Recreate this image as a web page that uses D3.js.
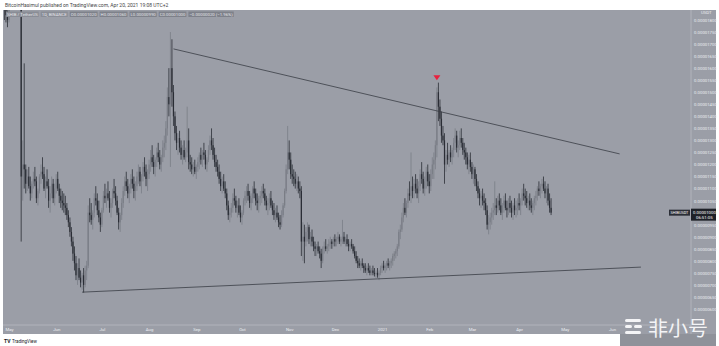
<!DOCTYPE html>
<html><head><meta charset="utf-8">
<script src="https://cdn.jsdelivr.net/npm/d3@7"></script>
<style>html,body{margin:0;padding:0;background:#fff;overflow:hidden}svg{display:block}</style>
</head><body><svg id="c" width="719" height="346"></svg>
<script>
// ---- data (prices in units of 1e-8 USDT) ----
const startDate = Date.UTC(2020, 3, 28);
const open0 = 1880;
const highs = [
1900,1880,1840,1880,1950,2000,2050,2030,1990,1960,
1920,1880,1300,1620,1200,1180,1190,1150,1130,1170,
1190,1150,1100,1160,1200,1230,1190,1150,1180,1140,
1110,1150,1140,1120,1160,1170,1120,1100,1090,1080,
1070,1040,1010,980,940,900,860,820,790,810,
760,750,770,780,800,1030,1060,1040,1010,1080,
1110,1080,1050,1000,1020,1090,1120,1100,1130,1090,
1060,1100,1140,1110,1070,1020,1000,1060,1110,1150,
1170,1140,1120,1160,1180,1150,1130,1170,1200,1190,
1160,1210,1230,1200,1180,1220,1260,1280,1240,1230,
1270,1290,1260,1240,1300,1320,1380,1520,1600,1750,
1720,1530,1420,1360,1330,1340,1300,1280,1300,1270,
1440,1350,1240,1230,1210,1220,1200,1230,1250,1270,
1260,1290,1260,1230,1280,1320,1350,1310,1270,1240,
1220,1200,1170,1150,1160,1130,1100,1050,1020,1040,
1080,1100,1070,1050,1060,1030,1010,1060,1090,1110,
1120,1090,1080,1110,1130,1100,1080,1070,1090,1110,
1120,1100,1070,1060,1080,1090,1050,1040,1020,1030,
1000,990,1010,1040,1100,1200,1360,1300,1250,1200,
1180,1170,1160,1150,1130,1110,960,950,940,960,
950,920,930,900,880,870,880,860,850,860,
880,890,870,890,900,890,900,910,900,920,
910,900,970,920,900,910,890,880,890,870,
860,840,820,810,800,810,790,790,780,790,
780,770,780,770,760,770,760,780,790,800,
790,800,810,800,810,830,840,850,870,930,
950,1000,1040,1060,1050,1100,1130,1250,1150,1140,
1160,1140,1130,1180,1210,1170,1150,1190,1200,1160,
1180,1230,1250,1300,1520,1540,1470,1420,1360,1330,
1260,1290,1260,1280,1270,1310,1350,1340,1300,1340,
1350,1310,1290,1270,1250,1240,1250,1210,1200,1190,
1160,1130,1100,1090,1100,1080,1060,1030,990,1000,
1020,1040,1130,1060,1070,1080,1060,1040,1070,1080,
1050,1060,1070,1050,1040,1060,1050,1060,1080,1060,
1100,1120,1100,1090,1070,1080,1060,1050,1070,1090,
1110,1130,1120,1140,1150,1130,1110,1120,1080,1060];
const lows = [
1800,1790,1770,1790,1860,1900,1920,1900,1880,1850,
1850,880,1050,1100,1080,1090,1100,1050,1060,1100,
1110,1040,1030,1080,1120,1140,1090,1060,1100,1020,
1000,1060,1040,1030,1080,1090,1040,1020,1010,1000,
990,970,940,900,860,800,760,720,700,720,
690,680,668,690,720,770,960,950,930,980,
1030,990,960,920,940,1000,1040,1020,1050,1000,
980,1020,1060,1030,990,930,920,970,1020,1070,
1090,1060,1040,1080,1100,1060,1050,1090,1120,1110,
1080,1130,1150,1110,1090,1140,1170,1190,1160,1150,
1190,1210,1180,1170,1210,1230,1260,1320,1400,1190,
1440,1360,1300,1260,1240,1250,1220,1200,1220,1210,
1230,1180,1170,1160,1150,1160,1140,1170,1180,1200,
1190,1220,1180,1170,1210,1240,1260,1220,1190,1170,
1150,1120,1090,1080,1090,1060,1010,970,960,980,
1000,1030,1000,980,990,960,950,990,1030,1040,
1050,1020,1010,1040,1060,1030,1010,1000,1030,1040,
1060,1030,1010,990,1010,1020,990,970,960,970,
940,930,940,980,1020,1080,1160,1180,1140,1120,
1110,1100,1090,1080,1060,820,800,790,860,880,
870,860,860,840,820,820,830,810,770,790,
830,840,830,840,850,850,860,860,860,870,
870,860,870,870,860,860,840,840,850,830,
810,790,770,770,760,770,750,750,740,750,
740,740,740,735,730,730,720,740,750,760,
750,760,770,760,770,780,800,810,820,850,
890,920,960,990,980,1020,1050,1040,1060,1060,
1080,1060,1040,1090,1120,1080,1070,1100,1110,1080,
1090,1140,1140,1180,1230,1380,1360,1290,1280,1120,
1170,1200,1190,1210,1200,1230,1260,1250,1230,1260,
1270,1240,1220,1200,1180,1160,1170,1140,1120,1110,
1090,1060,1030,1020,1030,1010,990,930,910,930,
950,970,990,990,1000,1010,990,970,1000,1010,
980,990,1000,980,970,990,980,990,1010,990,
1030,1050,1030,1020,1010,1010,1000,990,1010,1030,
1050,1070,1060,1080,1090,1060,1040,1030,1000,990];
const closes = [
1850,1820,1800,1870,1930,1960,2000,1950,1920,1900,
1880,1150,1200,1180,1120,1150,1110,1080,1120,1140,
1130,1060,1090,1150,1170,1160,1100,1130,1110,1050,
1080,1120,1060,1100,1140,1100,1070,1050,1040,1030,
1020,990,960,920,880,830,790,740,770,730,
710,740,700,760,780,1000,990,970,1000,1060,
1050,1010,980,950,1010,1070,1060,1080,1060,1020,
1040,1090,1080,1050,1000,960,990,1040,1090,1130,
1110,1080,1100,1140,1120,1090,1110,1150,1170,1130,
1150,1190,1170,1140,1160,1200,1230,1210,1190,1220,
1250,1230,1200,1230,1270,1290,1350,1480,1450,1600,
1500,1400,1330,1290,1310,1270,1240,1260,1230,1250,
1300,1210,1200,1180,1190,1170,1190,1210,1240,1220,
1250,1240,1200,1220,1260,1300,1280,1240,1210,1190,
1170,1140,1110,1130,1100,1080,1030,990,1000,1020,
1060,1050,1020,1030,1000,980,1000,1050,1070,1090,
1070,1040,1060,1100,1080,1050,1040,1060,1070,1090,
1080,1050,1030,1040,1060,1030,1010,990,1000,980,
960,950,990,1030,1090,1180,1250,1220,1160,1150,
1140,1120,1130,1100,1090,880,900,880,920,940,
890,900,880,860,850,860,840,830,800,850,
860,850,860,870,880,870,890,880,890,900,
880,890,900,880,890,870,860,870,860,840,
820,800,790,780,790,780,770,760,770,760,
750,760,750,745,750,740,750,770,780,770,
780,790,780,790,800,820,830,840,860,920,
930,980,1020,1000,1040,1080,1070,1110,1090,1120,
1100,1080,1110,1160,1140,1100,1130,1170,1130,1110,
1160,1200,1220,1280,1500,1440,1390,1320,1300,1200,
1240,1220,1250,1230,1260,1290,1320,1270,1280,1310,
1290,1260,1250,1230,1200,1220,1190,1160,1180,1140,
1110,1080,1060,1070,1050,1040,1010,950,960,980,
1000,1010,1030,1020,1050,1030,1000,1030,1050,1020,
1010,1040,1020,1000,1030,1010,1020,1040,1030,1050,
1080,1070,1060,1040,1050,1030,1020,1040,1060,1070,
1100,1090,1110,1120,1100,1080,1100,1050,1020,1000];

const priceTicks = [1800,1750,1700,1650,1600,1550,1500,1450,1400,1350,1300,1250,1200,1150,1100,1050,1000,950,900,850,800,750,700,650,600];
const monthTickYM = [[2020,4],[2020,5],[2020,6],[2020,7],[2020,8],[2020,9],[2020,10],[2020,11],[2021,0],[2021,1],[2021,2],[2021,3],[2021,4],[2021,5]];
const monthTickLabels = ["May","Jun","Jul","Aug","Sep","Oct","Nov","Dec","2021","Feb","Mar","Apr","May","Jun"];

const upperTrendDates = [Date.UTC(2020,7,17), Date.UTC(2021,5,6)];
const upperTrendPrices = [1680, 1244];
const lowerTrendDates = [Date.UTC(2020,5,18), Date.UTC(2021,5,20)];
const lowerTrendPrices = [670, 774];
const markerIndex = 284;
const markerPrice = 1560;

const headerText = "BitcoinHasimul published on TradingView.com, Apr 20, 2021 19:08 UTC+2";
const legendItems = ["SHIB / TetherUS", "1D, BINANCE", "O0.00001020", "H0.00001060", "L0.00000990", "C0.00001000", "\u22120.00000020 (\u22121.96%)"];

// ---- drawing ----
const svg = d3.select("#c");
const W = 719, H = 346;
const bg = "#9b9ea7";
const font = "Roboto, 'Liberation Sans', Arial, sans-serif";
const DAY = 86400000;
const fmt = p => (p * 1e-8).toFixed(8);

svg.append("rect").attr("width", W).attr("height", H).attr("fill", "#fff");
svg.append("text").attr("x", 5).attr("y", 7).attr("font-size", 5).attr("font-family", font)
  .attr("fill", "#444").text(headerText);

// panel
const P = {l: 3, t: 10, r: 691, b: 325, ar: 716, ab: 334};
svg.append("rect").attr("x", P.l).attr("y", P.t).attr("width", P.ar - P.l).attr("height", P.ab - P.t).attr("fill", bg);

const x = d3.scaleUtc().domain([new Date(Date.UTC(2020,4,1)), new Date(Date.UTC(2021,5,1))]).range([9, 612]);
const y = d3.scaleLinear().domain([1800, 600]).range([20, 309]);

svg.append("defs").append("clipPath").attr("id", "clip")
  .append("rect").attr("x", P.l).attr("y", P.t).attr("width", P.r - P.l).attr("height", P.b - P.t);
const plot = svg.append("g").attr("clip-path", "url(#clip)");

// candles
const candles = closes.map((c, i) => ({
  date: new Date(startDate + i * DAY),
  o: i === 0 ? open0 : closes[i - 1], h: highs[i], l: lows[i], c: c
}));
const upCol = "#7a7d86", dnCol = "#2a2d35";
const cg = plot.append("g");
cg.selectAll("line").data(candles).join("line")
  .attr("x1", d => x(d.date)).attr("x2", d => x(d.date))
  .attr("y1", d => y(d.h)).attr("y2", d => y(d.l))
  .attr("stroke", d => d.c >= d.o ? upCol : dnCol).attr("stroke-width", 0.8);
cg.selectAll("rect").data(candles).join("rect")
  .attr("x", d => x(d.date) - 0.6).attr("width", 1.2)
  .attr("y", d => y(Math.max(d.o, d.c)))
  .attr("height", d => Math.max(0.8, y(Math.min(d.o, d.c)) - y(Math.max(d.o, d.c))))
  .attr("fill", d => d.c >= d.o ? upCol : dnCol);

// trendlines
const tl = d3.line().x(d => x(new Date(d[0]))).y(d => y(d[1]));
plot.append("path").attr("d", tl(upperTrendDates.map((d, i) => [d, upperTrendPrices[i]])))
  .attr("stroke", "#3a3d45").attr("stroke-width", 0.8).attr("fill", "none");
plot.append("path").attr("d", tl(lowerTrendDates.map((d, i) => [d, lowerTrendPrices[i]])))
  .attr("stroke", "#3a3d45").attr("stroke-width", 0.8).attr("fill", "none");

// marker
const mx = x(candles[markerIndex].date), my = y(markerPrice);
plot.append("path").attr("d", `M${mx-3.5},${my-2.5}L${mx+3.5},${my-2.5}L${mx},${my+2.5}Z`).attr("fill", "#e8213e");

// legend line
let lx = 6;
const lg = svg.append("g");
legendItems.forEach((t, i) => {
  const tt = lg.append("text").attr("x", lx + 1).attr("y", 15.5).attr("font-size", 4.3).attr("font-family", font).attr("fill", "#e6e7ea").text(t);
  const w = tt.node().getComputedTextLength();
  lg.insert("rect", "text").attr("x", lx).attr("y", 11.5).attr("width", w + 2).attr("height", 5.5).attr("fill", i < 2 ? "#8a8d96" : "#7e818a");
  lx += w + 4;
});

// axes separators
svg.append("line").attr("x1", P.r).attr("x2", P.r).attr("y1", P.t).attr("y2", P.ab).attr("stroke", "#b7b9c0").attr("stroke-width", 0.8);
svg.append("line").attr("x1", P.l).attr("x2", P.r).attr("y1", P.b).attr("y2", P.b).attr("stroke", "#b7b9c0").attr("stroke-width", 0.8);

// price axis
const yAxis = d3.axisRight(y).tickValues(priceTicks).tickFormat(fmt).tickSize(0).tickPadding(3);
const ya = svg.append("g").attr("transform", `translate(${P.r},0)`).call(yAxis);
ya.select(".domain").remove();
ya.selectAll("text").attr("font-size", 4.3).attr("font-family", font).attr("fill", "#eceef2");
svg.append("text").attr("x", 701).attr("y", 14).attr("font-size", 4.3).attr("font-family", font).attr("fill", "#eceef2").text("USDT");

// time axis
const xAxis = d3.axisBottom(x).tickValues(monthTickYM.map(d => new Date(Date.UTC(d[0], d[1], 1))))
  .tickFormat((d, i) => monthTickLabels[i]).tickSize(0).tickPadding(3);
const xa = svg.append("g").attr("transform", `translate(0,${P.b})`).call(xAxis);
xa.select(".domain").remove();
xa.selectAll("text").attr("font-size", 4.3).attr("font-family", font).attr("fill", "#eceef2");

// last price labels
const last = candles[candles.length - 1];
const ly = y(last.c);
svg.append("rect").attr("x", 669).attr("y", ly - 3).attr("width", 21).attr("height", 6).attr("fill", "#2b2e36");
svg.append("text").attr("x", 679.5).attr("y", ly + 1.5).attr("text-anchor", "middle").attr("font-size", 3.8).attr("font-family", font).attr("fill", "#fff").text("SHIBUSDT");
svg.append("rect").attr("x", P.r).attr("y", ly - 4).attr("width", 25).attr("height", 12).attr("fill", "#1e2128");
svg.append("text").attr("x", 693).attr("y", ly + 1.5).attr("font-size", 4.3).attr("font-family", font).attr("fill", "#fff").text(fmt(last.c));
svg.append("text").attr("x", 696).attr("y", ly + 6.5).attr("font-size", 4.3).attr("font-family", font).attr("fill", "#fff").text("06:51:05");

// TradingView footer
svg.append("text").attr("x", 4).attr("y", 343).attr("font-size", 5).attr("font-weight", "bold").attr("font-family", font).attr("fill", "#131722").text("TV");
svg.append("text").attr("x", 12).attr("y", 343).attr("font-size", 4.5).attr("font-family", font).attr("fill", "#131722").text("TradingView");

// watermark
const wm = svg.append("g");
wm.append("rect").attr("x", 620).attr("y", 334).attr("width", 96).attr("height", 12).attr("fill", "#8f929a");
wm.append("rect").attr("x", 625).attr("y", 319).attr("width", 16).attr("height", 3).attr("rx", 1.5).attr("fill", "#f4f4f6");
wm.append("rect").attr("x", 625).attr("y", 325).attr("width", 7).attr("height", 3).attr("rx", 1.5).attr("fill", "#f4f4f6");
wm.append("rect").attr("x", 634).attr("y", 325).attr("width", 8).attr("height", 3).attr("rx", 1.5).attr("fill", "#f4f4f6");
wm.append("rect").attr("x", 625).attr("y", 331).attr("width", 16).attr("height", 3).attr("rx", 1.5).attr("fill", "#f4f4f6");
wm.append("text").attr("x", 648).attr("y", 336).attr("font-size", 20).attr("font-family", "'Noto Sans CJK SC', sans-serif").attr("fill", "#f4f4f6").text("非小号");
</script></body></html>
